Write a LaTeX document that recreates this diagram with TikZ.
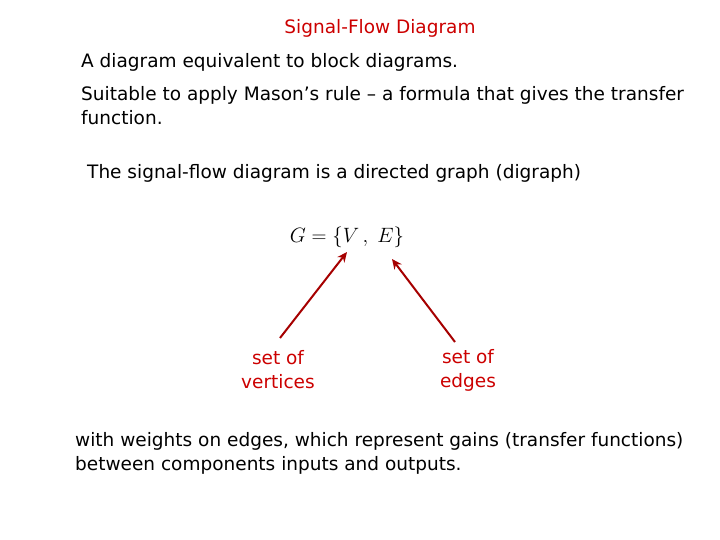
\documentclass[tikz,border=0pt]{standalone}
\usepackage{fontspec}
\setmainfont{DejaVu Sans}
\usetikzlibrary{arrows.meta}
\begin{document}
\begin{tikzpicture}[x=1pt,y=-1pt,
 txt/.style={anchor=west,inner sep=0pt,font=\fontsize{18.5}{24}\selectfont},
 rtxt/.style={inner sep=0pt,align=center,text=red!80!black,font=\fontsize{18.5}{24}\selectfont},
 arr/.style={draw=red!65!black,line width=2pt,-{Stealth[length=10pt,width=9pt]}}]
\useasboundingbox (0,0) rectangle (720,540);
\node[rtxt] (title) at (380,28) {Signal-Flow Diagram};
\node[txt] (l1) at (81,62) {A diagram equivalent to block diagrams.};
\node[txt,align=left,anchor=north west] (l2) at (81,86) {Suitable to apply Mason’s rule – a formula that gives the transfer\\function.};
\node[txt] (l3) at (87,173) {The signal-flow diagram is a directed graph (digraph)};
\node[inner sep=0pt,font=\fontsize{22}{24}\selectfont] (g) at (347,237) {$G=\{V\,,\;E\}$};
\coordinate (v) at (347,252);
\coordinate (e) at (392,259);
\node[rtxt] (sv) at (278,370) {set of\\vertices};
\node[rtxt] (se) at (468,370) {set of\\edges};
\draw[arr] (280,338) -- (v);
\draw[arr] (455,342) -- (e);
\node[txt,align=left,anchor=north west] (l4) at (75,432) {with weights on edges, which represent gains (transfer functions)\\between components inputs and outputs.};
\end{tikzpicture}
\end{document}
